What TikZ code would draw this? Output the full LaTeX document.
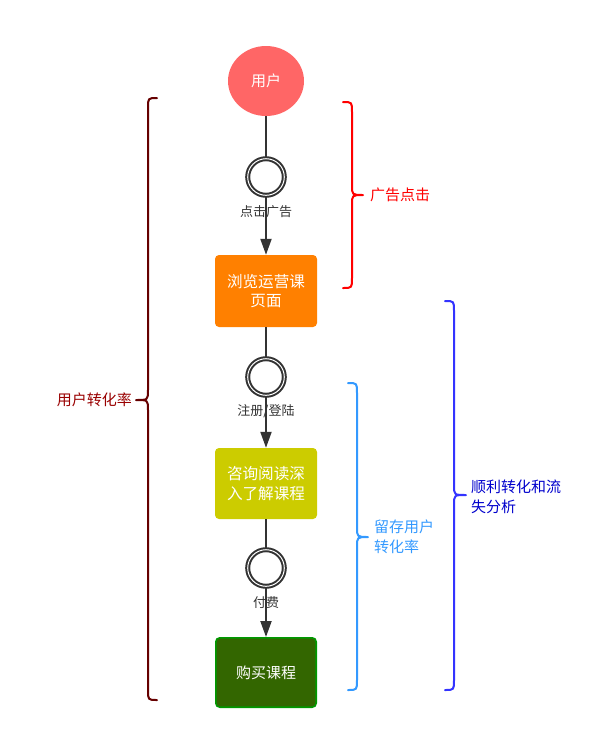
\documentclass[tikz,border=0pt]{standalone}
\usepackage{fontspec}
\setmainfont{Noto Sans CJK SC}
\usetikzlibrary{arrows.meta,shapes.geometric}
\definecolor{userred}{HTML}{FF6666}
\definecolor{orangebox}{HTML}{FF8000}
\definecolor{yellowbox}{HTML}{CCCC00}
\definecolor{greenbox}{HTML}{336600}
\definecolor{greenline}{HTML}{009900}
\definecolor{conncol}{HTML}{333333}
\definecolor{darkred}{HTML}{660000}
\definecolor{darkredtext}{HTML}{990000}
\definecolor{lightblue}{HTML}{3399FF}
\definecolor{bluebrace}{HTML}{3333FF}
\definecolor{bluetext}{HTML}{0000CC}
\begin{document}
\begin{tikzpicture}[x=1pt,y=-1pt,
  bigfont/.style={font=\fontsize{15}{19.5}\selectfont},
  boxfont/.style={font=\fontsize{15.6}{19.5}\selectfont},
  stepbox/.style={rectangle, rounded corners=4pt, minimum width=102pt, minimum height=72pt, inner sep=2pt, text=white, align=center, boxfont},
  eventcirc/.style={circle, draw=conncol, fill=white, line width=2pt, double=white, double distance=1pt, minimum size=36.6pt, inner sep=0pt},
  conn/.style={draw=conncol, line width=2pt},
  arr/.style={conn, -{Triangle[length=16pt,width=11pt]}},
  elabel/.style={font=\fontsize{13}{15}\selectfont, text=conncol, inner sep=1pt},
  bracepath/.style={line width=2pt, line cap=round, line join=round},
  bracelabel/.style={bigfont, align=left, inner sep=0pt}
]
\useasboundingbox (0,0) rectangle (595,740);

% nodes
\node[ellipse, fill=userred, minimum width=76pt, minimum height=70pt, inner sep=0pt, text=white, bigfont] (user) at (266,81) {用户};
\node[eventcirc] (c1) at (266,177) {};
\node[stepbox, fill=orangebox] (b1) at (266,291) {浏览运营课\\页面};
\node[eventcirc] (c2) at (266,377) {};
\node[stepbox, fill=yellowbox, minimum height=71pt] (b2) at (266,483.5) {咨询阅读深\\入了解课程};
\node[eventcirc] (c3) at (266,568) {};
\node[stepbox, fill=greenbox, draw=greenline, line width=1.6pt, minimum width=100.4pt, minimum height=69.4pt, bigfont] (b3) at (266,672.5) {购买课程};

% connectors
\draw[conn] (user) -- (c1);
\draw[arr] (c1) -- node[elabel, pos=0.27] {点击广告} (b1);
\draw[conn] (b1) -- (c2);
\draw[arr] (c2) -- node[elabel, pos=0.29] {注册/登陆} (b2);
\draw[conn] (b2) -- (c3);
\draw[arr] (c3) -- node[elabel, pos=0.31] {付费} (b3);

% left brace
\draw[bracepath, draw=darkred] (157,98) .. controls (148,98) .. (148,108) -- (148,390)
  .. controls (148,400) .. (136,400) .. controls (148,400) .. (148,410) -- (148,690)
  .. controls (148,700) .. (157,700);
\node[bracelabel, text=darkredtext, anchor=east] (lbl1) at (132,400) {用户转化率};

% red brace
\draw[bracepath, draw=red] (343,102) .. controls (352,102) .. (352,112) -- (352,185)
  .. controls (352,195) .. (363,195) .. controls (352,195) .. (352,205) -- (352,278)
  .. controls (352,288) .. (343,288);
\node[bracelabel, text=red, anchor=west] (lbl2) at (370,195) {广告点击};

% light blue brace
\draw[bracepath, draw=lightblue] (348,383) .. controls (357,383) .. (357,393) -- (357,527)
  .. controls (357,537) .. (368,537) .. controls (357,537) .. (357,547) -- (357,680)
  .. controls (357,690) .. (348,690);
\node[bracelabel, text=lightblue, anchor=west] (lbl3) at (374,537) {留存用户\\转化率};

% blue brace
\draw[bracepath, draw=bluebrace] (445,301) .. controls (454,301) .. (454,311) -- (454,485)
  .. controls (454,495) .. (466,495) .. controls (454,495) .. (454,505) -- (454,680)
  .. controls (454,690) .. (445,690);
\node[bracelabel, text=bluetext, anchor=west] (lbl4) at (471,497) {顺利转化和流\\失分析};
\end{tikzpicture}
\end{document}
